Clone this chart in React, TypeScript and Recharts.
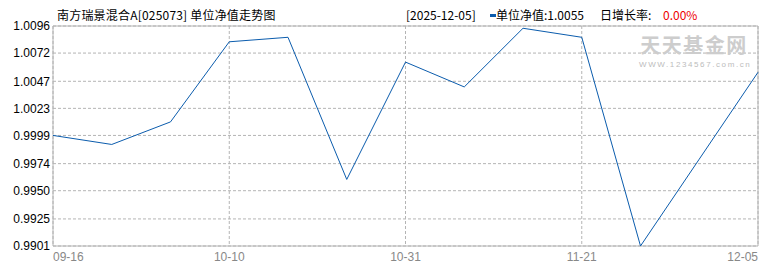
import { LineChart, Line, XAxis, YAxis, CartesianGrid, ReferenceArea } from 'recharts';

const dates = [
  '09-16', '09-23', '09-30', '10-10', '10-17', '10-24', '10-31',
  '11-07', '11-14', '11-21', '11-28', '12-02', '12-05',
];
const navValues = [
  0.9999, 0.9991, 1.0011, 1.0082, 1.0086, 0.996, 1.0064,
  1.0042, 1.0094, 1.0086, 0.9901, 0.9978, 1.0055,
];
const xTicks = ['09-16', '10-10', '10-31', '11-21', '12-05'];
const yTicks = [0.9901, 0.9925, 0.995, 0.9974, 0.9999, 1.0023, 1.0047, 1.0072, 1.0096];

const fundTitle = '南方瑞景混合A[025073] 单位净值走势图';
const latestDate = '[2025-12-05]';
const navLabel = '单位净值:1.0055';
const growthLabel = '日增长率:';
const growthValue = '0.00%';

const data = dates.map((d, i) => ({ date: d, nav: navValues[i] }));

const cjk = '"Noto Sans CJK SC", "Liberation Sans", sans-serif';
const num = '"Liberation Sans", sans-serif';

function DateTick({ x, y, payload }: any) {
  const v = payload.value;
  const anchor = v === dates[0] ? 'start' : v === dates[dates.length - 1] ? 'end' : 'middle';
  return (
    <text x={x} y={y} dy={7} textAnchor={anchor} fill="#888" fontSize={12} fontFamily={num}>
      {v}
    </text>
  );
}

function txt(left: number, content: string, color = '#000', spacing = 0) {
  return (
    <span
      style={{
        position: 'absolute',
        left,
        top: 8,
        fontSize: 12,
        lineHeight: '14px',
        color,
        fontFamily: cjk,
        whiteSpace: 'nowrap',
        letterSpacing: spacing,
      }}
    >
      {content}
    </span>
  );
}

export default function App() {
  return (
    <div
      style={{
        position: 'absolute',
        left: 0,
        top: 0,
        width: 770,
        height: 270,
        background: '#fff',
        overflow: 'hidden',
      }}
    >
      <LineChart width={770} height={270} data={data} margin={{ top: 26, right: 12, bottom: 0, left: 0 }}>
        <CartesianGrid stroke="#b4b4b4" strokeDasharray="3 2" />
        <XAxis
          dataKey="date"
          ticks={xTicks}
          interval={0}
          height={24}
          axisLine={false}
          tickLine={false}
          tick={<DateTick />}
        />
        <YAxis
          domain={[0.9901, 1.0096]}
          ticks={yTicks}
          interval={0}
          width={53}
          axisLine={false}
          tickLine={false}
          tickSize={0}
          tickMargin={3}
          tickFormatter={(v: number) => v.toFixed(4)}
          tick={{ fill: '#000', fontSize: 12, fontFamily: num }}
        />
        <ReferenceArea
          x1={dates[0]}
          x2={dates[dates.length - 1]}
          y1={0.9901}
          y2={1.0096}
          fill="none"
          stroke="#b4b4b4"
          strokeOpacity={1}
        />
        <Line
          type="linear"
          dataKey="nav"
          stroke="#0b5cad"
          strokeWidth={1}
          dot={false}
          isAnimationActive={false}
        />
      </LineChart>

      {txt(57, fundTitle, '#000', 0.2)}
      {txt(406, latestDate)}
      <span
        style={{ position: 'absolute', left: 490, top: 14, width: 6, height: 3, background: '#0b5cad' }}
      />
      {txt(496, navLabel)}
      {txt(600, growthLabel)}
      {txt(663, growthValue, '#e00')}

      <div
        style={{
          position: 'absolute',
          left: 639,
          top: 34,
          width: 110,
          textAlign: 'center',
          fontSize: 20,
          lineHeight: '22px',
          fontWeight: 'bold',
          color: '#cdcdcd',
          fontFamily: cjk,
          letterSpacing: 1.5,
        }}
      >
        天天基金网
      </div>
      <div
        style={{
          position: 'absolute',
          left: 639,
          top: 60,
          width: 110,
          textAlign: 'center',
          fontSize: 8,
          lineHeight: '9px',
          color: '#bcbcbc',
          fontFamily: num,
          letterSpacing: 1.6,
        }}
      >
        WWW.1234567.com.cn
      </div>
    </div>
  );
}
